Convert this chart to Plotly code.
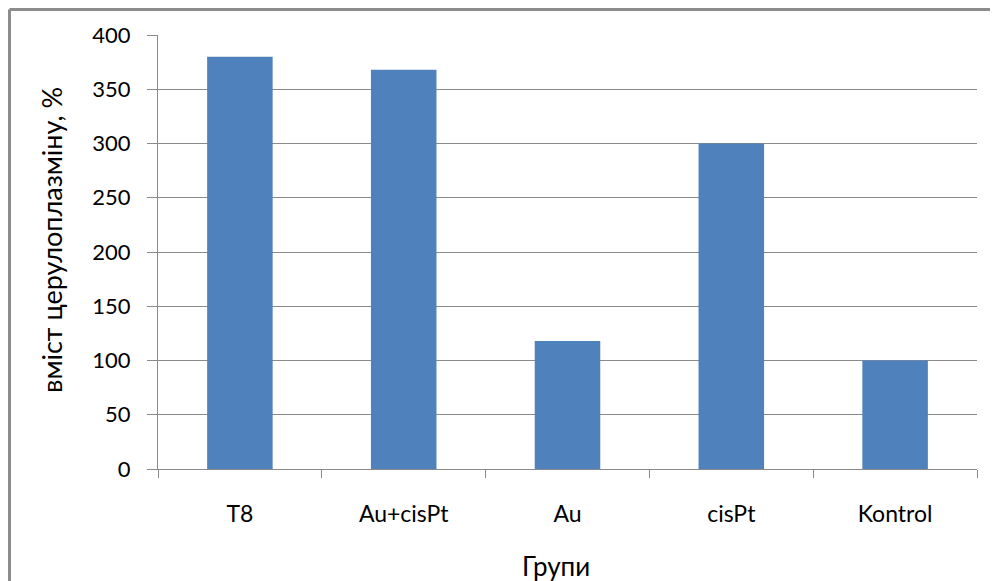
import plotly.graph_objects as go

categories = ["T8", "Au+cisPt", "Au", "cisPt", "Kontrol"]
values = [380, 368, 118, 300, 100]
y_ticks = [0, 50, 100, 150, 200, 250, 300, 350, 400]

grid_col = "#8a8a8a"
font_fam = "Lato, 'Open Sans', sans-serif"

W, H = 990, 573
L, R, T, B = 150, 21, 27, 112
pw, ph = W - L - R, H - T - B
bx = (1.5 - L) / pw
by = 1 + (T - 1.5) / ph

fig = go.Figure(go.Bar(x=categories, y=values, marker=dict(color="#4f81bd", line=dict(width=0)),
                       width=0.4))

fig.update_layout(
    width=W, height=H,
    margin=dict(l=L, r=R, t=T, b=B),
    plot_bgcolor="white", paper_bgcolor="white",
    showlegend=False,
    font=dict(family=font_fam, color="#000000"),
    bargap=0.6,
    shapes=[
        dict(type="line", xref="paper", yref="paper", x0=bx, x1=1.1, y0=by, y1=by,
             line=dict(color="#8c8c8c", width=3)),
        dict(type="line", xref="paper", yref="paper", x0=bx, x1=bx, y0=-0.4, y1=by,
             line=dict(color="#8c8c8c", width=3)),
    ],
    annotations=[
        dict(text="Групи", xref="paper", yref="paper", x=(548 - L) / pw, y=-(558 - (H - B)) / ph,
             xanchor="center", yanchor="middle", showarrow=False, font=dict(size=26)),
        dict(text="вміст церулоплазміну, %", xref="paper", yref="paper",
             x=(43 - L) / pw, y=1 - (232 - T) / ph, textangle=-90,
             xanchor="center", yanchor="middle", showarrow=False, font=dict(size=27)),
    ],
)
fig.update_xaxes(
    showline=True, linecolor=grid_col, linewidth=1,
    ticks="outside", ticklen=8, tickcolor=grid_col, tickson="boundaries",
    showgrid=False, tickfont=dict(size=23), ticklabelstandoff=24,
)
fig.update_yaxes(
    range=[0, 400], tickvals=y_ticks, showline=True, linecolor=grid_col, linewidth=1,
    ticks="outside", ticklen=10, tickcolor=grid_col,
    showgrid=True, gridcolor=grid_col, gridwidth=1, zeroline=False,
    tickfont=dict(size=22), ticklabelstandoff=12,
)

fig.write_html("out.html")
